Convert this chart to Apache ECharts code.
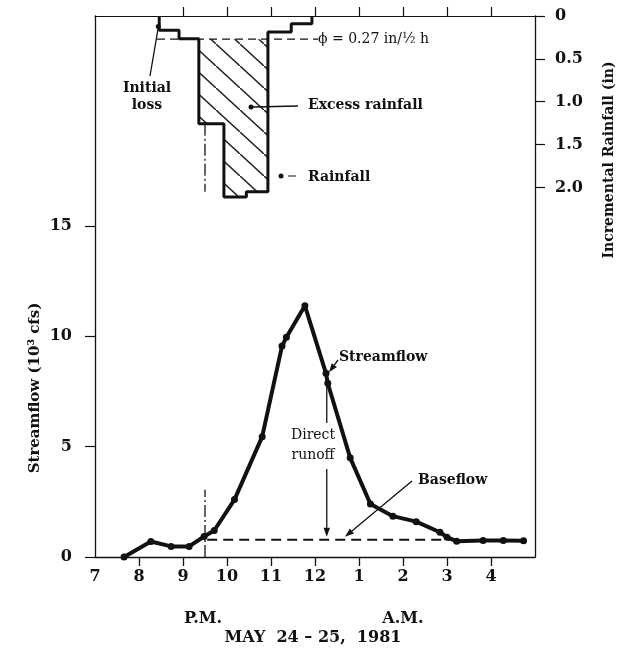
<!DOCTYPE html>
<html><head><meta charset="utf-8">
<script src="https://cdn.jsdelivr.net/npm/echarts@6/dist/echarts.min.js"></script>
<style>html,body{margin:0;padding:0;background:#fff;} #c{width:617px;height:656px;}</style>
</head><body><div id="c"></div>
<script>
// ---- data ----
// time in hours after noon of May 24 (13 = 1 A.M.)
const hourTickValues = [7, 8, 9, 10, 11, 12, 13, 14, 15, 16];
const hourTickLabels = ['7', '8', '9', '10', '11', '12', '1', '2', '3', '4'];
const flowTimes  = [7.66, 8.27, 8.73, 9.14, 9.48, 9.71, 10.17, 10.80, 11.25, 11.35, 11.77, 12.25, 12.29, 12.80, 13.26, 13.77, 14.30, 14.84, 15.00, 15.22, 15.82, 16.28, 16.74];
const flowValues = [0.00, 0.70, 0.48, 0.48, 0.93, 1.20, 2.60, 5.45, 9.55, 9.95, 11.38, 8.32, 7.87, 4.49, 2.40, 1.85, 1.60, 1.12, 0.90, 0.71, 0.75, 0.75, 0.74];
const baseflowTimes = [9.55, 15.07];
const baseflowValue = 0.78;
const rainEdges  = [8.46, 8.91, 9.36, 9.93, 10.44, 10.93, 11.46, 11.93];
const rainDepths = [0.167, 0.264, 1.256, 2.11, 2.05, 0.187, 0.089];
const excessIdx = [2, 3, 4];
const phiIndex = 0.27;
const phiExtent = [8.41, 12.07];
const runoffStart = 9.5;
const flowTickValues = [0, 5, 10, 15];
const rainTickValues = [0, 0.5, 1.0, 1.5, 2.0];
const rainTickLabels = ['0', '0.5', '1.0', '1.5', '2.0'];

const SERIF = '"DejaVu Serif", "Liberation Serif", serif';
const INK = '#111';

// hatch pattern
const hatch = document.createElement('canvas');
hatch.width = 24; hatch.height = 22;
(function(){
  const g = hatch.getContext('2d');
  g.strokeStyle = '#222'; g.lineWidth = 1.5;
  [[-24,-22],[0,0],[24,22]].forEach(o => {
    g.beginPath(); g.moveTo(o[0], o[1]); g.lineTo(o[0]+24, o[1]+22); g.stroke();
  });
})();

const outline = [[rainEdges[0], 0]];
rainDepths.forEach((d, i) => { outline.push([rainEdges[i], d]); outline.push([rainEdges[i+1], d]); });
outline.push([rainEdges[rainEdges.length-1], 0]);

const chart = echarts.init(document.getElementById('c'), null, {renderer: 'canvas'});
const axisFont = {fontFamily: SERIF, fontWeight: 'bold', fontSize: 16, color: INK};

chart.setOption({
  backgroundColor: '#fff',
  animation: false,
  grid: {left: 95, right: 82, top: 16, bottom: 99},
  xAxis: [
    {type: 'value', position: 'bottom', min: 7, max: 17,
     axisLine: {show: true, onZero: false, lineStyle: {color: INK, width: 1.3}},
     axisTick: {show: true, length: 9, lineStyle: {color: INK, width: 1.3}, customValues: [8,9,10,11,12,13,14,15,16]},
     axisLabel: Object.assign({margin: 12, customValues: hourTickValues,
       formatter: v => hourTickLabels[hourTickValues.indexOf(Math.round(v))] || ''}, axisFont),
     splitLine: {show: false}},
    {type: 'value', position: 'top', min: 7, max: 17,
     axisLine: {show: true, onZero: false, lineStyle: {color: INK, width: 1.2}},
     axisTick: {show: true, length: 9, lineStyle: {color: INK, width: 1.2}, customValues: [9,10,11,12,13,14,15,16]},
     axisLabel: {show: false}, splitLine: {show: false}}
  ],
  yAxis: [
    {type: 'value', position: 'left', min: 0, max: 24.5,
     axisLine: {show: true, onZero: false, lineStyle: {color: INK, width: 1.3}},
     axisTick: {show: true, length: 10, lineStyle: {color: INK, width: 1.2}, customValues: flowTickValues},
     axisLabel: Object.assign({margin: 23, customValues: flowTickValues}, axisFont),
     splitLine: {show: false}},
    {type: 'value', position: 'right', min: 0, max: 6.31, inverse: true,
     axisLine: {show: true, onZero: false, lineStyle: {color: INK, width: 1.3}},
     axisTick: {show: true, length: 10, lineStyle: {color: INK, width: 1.2}, customValues: rainTickValues},
     axisLabel: Object.assign({margin: 20, customValues: rainTickValues,
       formatter: v => rainTickLabels[rainTickValues.indexOf(v)] || ''}, axisFont),
     splitLine: {show: false}}
  ],
  series: [
    {type: 'custom', xAxisIndex: 0, yAxisIndex: 1, z: 2, silent: true,
     data: [[rainEdges[excessIdx[0]], phiIndex]],
     renderItem: (params, api) => {
       const i0 = excessIdx[0], i1 = excessIdx[excessIdx.length-1];
       const pts = [api.coord([rainEdges[i0], phiIndex]), api.coord([rainEdges[i1+1], phiIndex])];
       for (let k = i1; k >= i0; k--) {
         pts.push(api.coord([rainEdges[k+1], rainDepths[k]]));
         pts.push(api.coord([rainEdges[k], rainDepths[k]]));
       }
       return {type: 'polygon', shape: {points: pts}, style: {fill: {image: hatch, repeat: 'repeat'}, stroke: null}};
     }},
    {type: 'line', xAxisIndex: 0, yAxisIndex: 1, z: 4, data: outline, symbol: 'none',
     lineStyle: {color: INK, width: 3}},
    {type: 'line', xAxisIndex: 0, yAxisIndex: 1, z: 3, data: phiExtent.map(t => [t, phiIndex]), symbol: 'none',
     lineStyle: {color: INK, width: 1.4, type: [8, 5]}},
    {type: 'line', xAxisIndex: 0, yAxisIndex: 1, z: 3,
     data: [[runoffStart, rainDepths[2]], [runoffStart, rainDepths[4]]], symbol: 'none',
     lineStyle: {color: INK, width: 1.3, type: [12, 3, 2, 3]}},
    {type: 'line', xAxisIndex: 0, yAxisIndex: 0, z: 3,
     data: [[runoffStart, 0], [runoffStart, 3.05]], symbol: 'none',
     lineStyle: {color: INK, width: 1.3, type: [12, 3, 2, 3]}},
    {type: 'line', xAxisIndex: 0, yAxisIndex: 0, z: 3,
     data: baseflowTimes.map(t => [t, baseflowValue]), symbol: 'none',
     lineStyle: {color: INK, width: 2, type: [10, 6]}},
    {type: 'line', xAxisIndex: 0, yAxisIndex: 0, z: 5,
     data: flowTimes.map((t, i) => [t, flowValues[i]]),
     symbol: 'circle', symbolSize: 7, showAllSymbol: true,
     itemStyle: {color: INK}, lineStyle: {color: INK, width: 4}}
  ]
});

function P(t, v, rain) {
  return chart.convertToPixel({xAxisIndex: 0, yAxisIndex: rain ? 1 : 0}, [t, v]);
}
function txt(x, y, s, opts) {
  opts = opts || {};
  return {type: 'text', x: x, y: y, rotation: opts.rot || 0, z: 10,
    style: {text: s, fill: INK, font: (opts.bold === false ? '' : 'bold ') + (opts.size || 14) + 'px ' + SERIF,
      textAlign: opts.align || 'left', textVerticalAlign: 'middle'}};
}
function seg(x1, y1, x2, y2, w) {
  return {type: 'line', z: 10, shape: {x1, y1, x2, y2}, style: {stroke: INK, lineWidth: w || 1.3}};
}
function dot(x, y, r) {
  return {type: 'circle', z: 10, shape: {cx: x, cy: y, r: r || 2.5}, style: {fill: INK}};
}
function arrow(x1, y1, x2, y2) {
  const a = Math.atan2(y2 - y1, x2 - x1), L = 9, W = 3.2;
  const bx = x2 - L * Math.cos(a), by = y2 - L * Math.sin(a);
  return [seg(x1, y1, bx, by),
    {type: 'polygon', z: 10, shape: {points: [[x2, y2],
      [bx + W * Math.sin(a), by - W * Math.cos(a)], [bx - W * Math.sin(a), by + W * Math.cos(a)]]},
     style: {fill: INK}}];
}

const peakIdx = 11, lowIdx = 12;
const sPt = P(flowTimes[peakIdx], flowValues[peakIdx]);
const dPt = P(flowTimes[lowIdx], flowValues[lowIdx]);
const baseY = P(runoffStart, baseflowValue)[1];
const dotLoss = P(rainEdges[0], rainDepths[0] * 0.6, true);
const g = [];
// axis titles
g.push(txt(35, 388, 'Streamflow (10³ cfs)', {rot: Math.PI / 2, align: 'center', size: 15}));
g.push(txt(609, 160, 'Incremental Rainfall (in)', {rot: Math.PI / 2, align: 'center', size: 14}));
// bottom captions
g.push(txt(203, 619, 'P.M.', {align: 'center', size: 16}));
g.push(txt(403, 619, 'A.M.', {align: 'center', size: 16}));
g.push(txt(313, 638, 'MAY  24 – 25,  1981', {align: 'center', size: 16}));
// hyetograph annotations
g.push(txt(147, 88, 'Initial', {align: 'center'}));
g.push(txt(147, 105, 'loss', {align: 'center'}));
g.push(seg(150, 76, dotLoss[0] - 1, dotLoss[1] + 3));
g.push(dot(dotLoss[0] - 1, dotLoss[1] + 2));
g.push(txt(308, 105, 'Excess rainfall'));
g.push(seg(298, 106, 253, 107));
g.push(dot(251, 107));
g.push(txt(308, 177, 'Rainfall'));
g.push(dot(281, 176));
g.push(seg(288, 176, 296, 176, 1));
g.push(txt(318, 39, 'ϕ = 0.27 in/½ h', {bold: false, size: 14}));
// hydrograph annotations
g.push(txt(339, 357, 'Streamflow'));
arrow(338, 360, sPt[0] + 3, sPt[1] - 1).forEach(e => g.push(e));
g.push(seg(dPt[0] - 1, dPt[1] + 3, dPt[0] - 1, 423));
g.push(txt(313, 435, 'Direct', {align: 'center', bold: false}));
g.push(txt(313, 455, 'runoff', {align: 'center', bold: false}));
arrow(dPt[0] - 1, 469, dPt[0] - 1, baseY - 3).forEach(e => g.push(e));
g.push(txt(418, 480, 'Baseflow'));
arrow(412, 481, 345, baseY - 3).forEach(e => g.push(e));

chart.setOption({graphic: g});
</script>
</body></html>
